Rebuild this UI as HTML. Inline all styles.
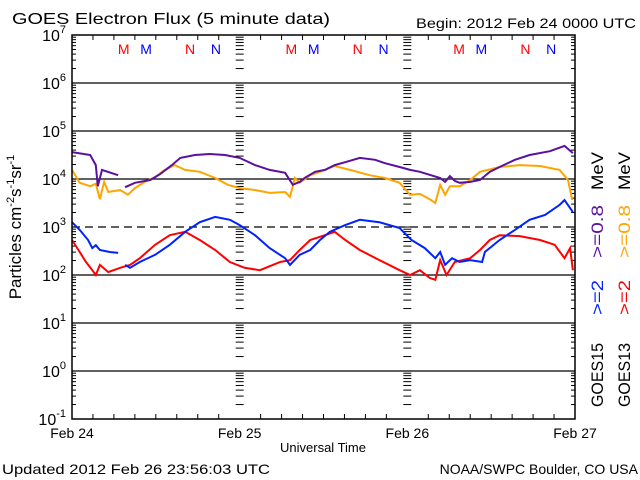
<!DOCTYPE html>
<html><head><meta charset="utf-8">
<style>
html,body{margin:0;padding:0;background:#fff;}
svg{display:block;font-family:"Liberation Sans",sans-serif;}
</style></head>
<body>
<svg id="chart" width="640" height="480" viewBox="0 0 640 480" xmlns="http://www.w3.org/2000/svg">
<text x="12" y="24" font-size="16" textLength="318" lengthAdjust="spacingAndGlyphs">GOES Electron Flux (5 minute data)</text>
<text x="416" y="28" font-size="14" textLength="220" lengthAdjust="spacingAndGlyphs">Begin: 2012 Feb 24 0000 UTC</text>
<text x="323" y="452" font-size="13" text-anchor="middle">Universal Time</text>
<text x="2" y="474" font-size="14" textLength="268" lengthAdjust="spacingAndGlyphs">Updated 2012 Feb 26 23:56:03 UTC</text>
<text x="638" y="474" font-size="14" text-anchor="end">NOAA/SWPC Boulder, CO USA</text>
<text transform="translate(21,227) rotate(-90)" font-size="17" text-anchor="middle">Particles cm<tspan font-size="11" dy="-7">-2</tspan><tspan dy="7">s</tspan><tspan font-size="11" dy="-7">-1</tspan><tspan dy="7">sr</tspan><tspan font-size="11" dy="-7">-1</tspan></text>
<g font-size="17">
<text transform="translate(603,407) rotate(-90)" textLength="64" lengthAdjust="spacingAndGlyphs">GOES15</text>
<text transform="translate(603,315) rotate(-90)" fill="#0022ff" textLength="35" lengthAdjust="spacingAndGlyphs">&gt;=2</text>
<text transform="translate(603,258) rotate(-90)" fill="#5a10a0" textLength="53" lengthAdjust="spacingAndGlyphs">&gt;=0.8</text>
<text transform="translate(603,190) rotate(-90)" textLength="38" lengthAdjust="spacingAndGlyphs">MeV</text>
</g>
<g font-size="17">
<text transform="translate(630,407) rotate(-90)" textLength="64" lengthAdjust="spacingAndGlyphs">GOES13</text>
<text transform="translate(630,315) rotate(-90)" fill="#ff0000" textLength="35" lengthAdjust="spacingAndGlyphs">&gt;=2</text>
<text transform="translate(630,258) rotate(-90)" fill="#ffa500" textLength="53" lengthAdjust="spacingAndGlyphs">&gt;=0.8</text>
<text transform="translate(630,190) rotate(-90)" textLength="38" lengthAdjust="spacingAndGlyphs">MeV</text>
</g>
<g id="axes"></g>
<g id="series"></g>
<rect x="72" y="35" width="503" height="384" fill="none" stroke="#000" stroke-width="1.5"/>
</svg>
<script>
const dayLabels = ["Feb 24","Feb 25","Feb 26","Feb 27"];
const decades = [-1,0,1,2,3,4,5,6,7];
const markers = [["M","red",7.4],["M","blue",10.6],["N","red",16.9],["N","blue",20.6]];

const purpleT=[0,2.6,3.4,3.7,4.3,6.6,null,7.6,9.0,11.2,12.6,14.3,15.5,17.6,19.7,21.9,24.0,26.2,28.3,30.5,31.6,32.6,33.3,34.8,36.2,37.6,39.1,41.2,43.4,44.8,46.9,48.4,49.8,52.7,53.4,54.1,54.8,55.5,57.0,58.4,59.8,61.2,63.4,65.5,68.4,70.5,71.7];
const purpleV=[4.56,4.50,4.29,3.85,4.19,4.08,null,3.83,3.92,3.98,4.10,4.29,4.44,4.50,4.52,4.50,4.44,4.29,4.19,4.13,3.88,3.94,4.02,4.15,4.19,4.29,4.35,4.44,4.40,4.33,4.25,4.19,4.15,4.02,3.94,4.06,3.96,3.92,3.94,3.98,4.15,4.25,4.40,4.50,4.58,4.69,4.54];
const orangeT=[0,1.1,2.6,3.4,4.0,4.6,5.2,6.9,8.0,9.0,10.4,11.9,13.3,14.7,16.2,18.3,20.5,22.3,24.0,26.2,28.3,30.5,31.2,31.9,32.6,34.1,35.5,37.6,39.8,42.6,44.8,46.9,48.4,49.8,51.2,52.0,52.7,53.4,54.1,55.5,57.0,58.4,61.2,64.1,67.0,69.8,71.0,71.6];
const orangeV=[4.19,3.92,3.85,3.90,3.58,3.94,3.73,3.77,3.67,3.81,3.94,4.04,4.19,4.29,4.19,4.15,4.02,3.88,3.81,3.77,3.71,3.73,3.63,4.02,3.92,4.08,4.15,4.27,4.19,4.08,4.02,3.92,3.67,3.69,3.58,3.50,3.88,3.67,3.85,3.85,3.98,4.15,4.25,4.29,4.27,4.19,3.98,3.56];
const blueT=[0,1.1,2.3,2.9,3.4,4.0,5.4,6.6,null,7.6,8.3,9.7,11.9,14.0,16.2,18.3,20.5,22.6,24.0,26.2,28.3,30.5,31.2,32.6,34.1,35.5,36.9,39.1,41.2,44.0,46.9,48.6,50.5,52.0,52.7,53.4,54.4,55.5,57.0,58.7,59.1,61.2,63.4,65.5,67.7,69.8,70.5,71.7];
const blueV=[3.10,2.94,2.73,2.56,2.62,2.52,2.48,2.46,null,2.21,2.15,2.27,2.42,2.63,2.90,3.10,3.21,3.15,3.04,2.83,2.56,2.35,2.21,2.42,2.52,2.73,2.90,3.04,3.15,3.10,2.98,2.73,2.56,2.35,2.48,2.21,2.35,2.27,2.31,2.27,2.48,2.73,2.94,3.15,3.25,3.46,3.56,3.31];
const redT=[0,1.1,2.0,2.9,3.4,4.0,5.2,6.9,8.3,9.7,11.9,14.0,16.2,18.3,20.5,22.6,24.7,26.9,29.8,31.2,32.6,34.1,36.2,37.6,39.1,41.2,44.0,46.9,48.4,49.8,51.2,52.0,52.7,53.6,54.8,57.0,58.4,59.8,61.2,64.1,67.0,69.1,70.5,71.3,71.7];
const redV=[2.73,2.48,2.27,2.10,2.00,2.21,2.06,2.15,2.21,2.35,2.63,2.83,2.90,2.73,2.52,2.27,2.15,2.10,2.27,2.31,2.52,2.73,2.83,2.90,2.73,2.52,2.31,2.10,2.00,2.10,1.94,1.90,2.31,2.00,2.27,2.35,2.52,2.73,2.83,2.81,2.73,2.63,2.35,2.56,2.10];

const X0=72,X1=575,Y7=35,DEC=48;
const xs=h=>X0+(X1-X0)*h/72;
const ys=v=>Y7+(7-v)*DEC;
const NS="http://www.w3.org/2000/svg";
const axes=document.getElementById('axes');
const ser=document.getElementById('series');
function mk(tag,attrs,parent){const e=document.createElementNS(NS,tag);for(const k in attrs)e.setAttribute(k,attrs[k]);parent.appendChild(e);return e;}

decades.forEach(d=>{
  const y=ys(d);
  if(d>-1&&d<7){
    const l=mk('line',{x1:X0,x2:X1,y1:y,y2:y,stroke:'#000','stroke-width':1.3},axes);
    if(d===3)l.setAttribute('stroke-dasharray','8,5');
    
    
  }
  const t=mk('text',{x:66,y:y+6,'font-size':16,'text-anchor':'end'},axes);
  
  
  t.textContent='10';
  const s=mk('tspan',{'font-size':11,dy:-8},t);s.textContent=String(d);
  if(d<7){
    for(let m=2;m<=9;m++){
      const yy=ys(d+Math.log10(m));
      [[X0,X0+4],[X1-4,X1],[xs(24)-4,xs(24)+4],[xs(48)-4,xs(48)+4]].forEach(p=>{
        mk('line',{x1:p[0],x2:p[1],y1:yy,y2:yy,stroke:'#000','stroke-width':1},axes);
      });
    }
    [[X0,X0+8],[X1-8,X1],[xs(24)-5,xs(24)+5],[xs(48)-5,xs(48)+5]].forEach(p=>{
      mk('line',{x1:p[0],x2:p[1],y1:y,y2:y,stroke:'#000','stroke-width':1},axes);
    });
  }
});
for(let h=3;h<72;h+=3){
  const x=xs(h),len=h%24===0?0:5;
  mk('line',{x1:x,x2:x,y1:419,y2:419-len,stroke:'#000'},axes);
  mk('line',{x1:x,x2:x,y1:35,y2:35+len,stroke:'#000'},axes);
}
dayLabels.forEach((lab,i)=>{
  const t=mk('text',{x:xs(i*24),y:438,'font-size':14,'text-anchor':'middle'},axes);
  
  
  t.textContent=lab;
});
for(let d=0;d<3;d++){
  markers.forEach(m=>{
    const t=mk('text',{x:xs(d*24+m[2]),y:54,'font-size':14,'text-anchor':'middle',fill:m[1]},axes);
    
    
    t.textContent=m[0];
  });
}
function draw(T,V,color,name){
  let d='',pen=false;
  for(let i=0;i<T.length;i++){
    if(T[i]===null){pen=false;continue;}
    d+=(pen?'L':'M')+xs(T[i]).toFixed(1)+','+ys(V[i]).toFixed(1);
    pen=true;
  }
  const p=mk('path',{d:d,fill:'none',stroke:color,'stroke-width':2,'stroke-linejoin':'miter'},ser);
  
  
}
draw(orangeT,orangeV,'#ffa500','series-goes13-0.8mev');
draw(purpleT,purpleV,'#5a10a0','series-goes15-0.8mev');
draw(redT,redV,'#ff0000','series-goes13-2mev');
draw(blueT,blueV,'#0022ff','series-goes15-2mev');
</script>
</body></html>
